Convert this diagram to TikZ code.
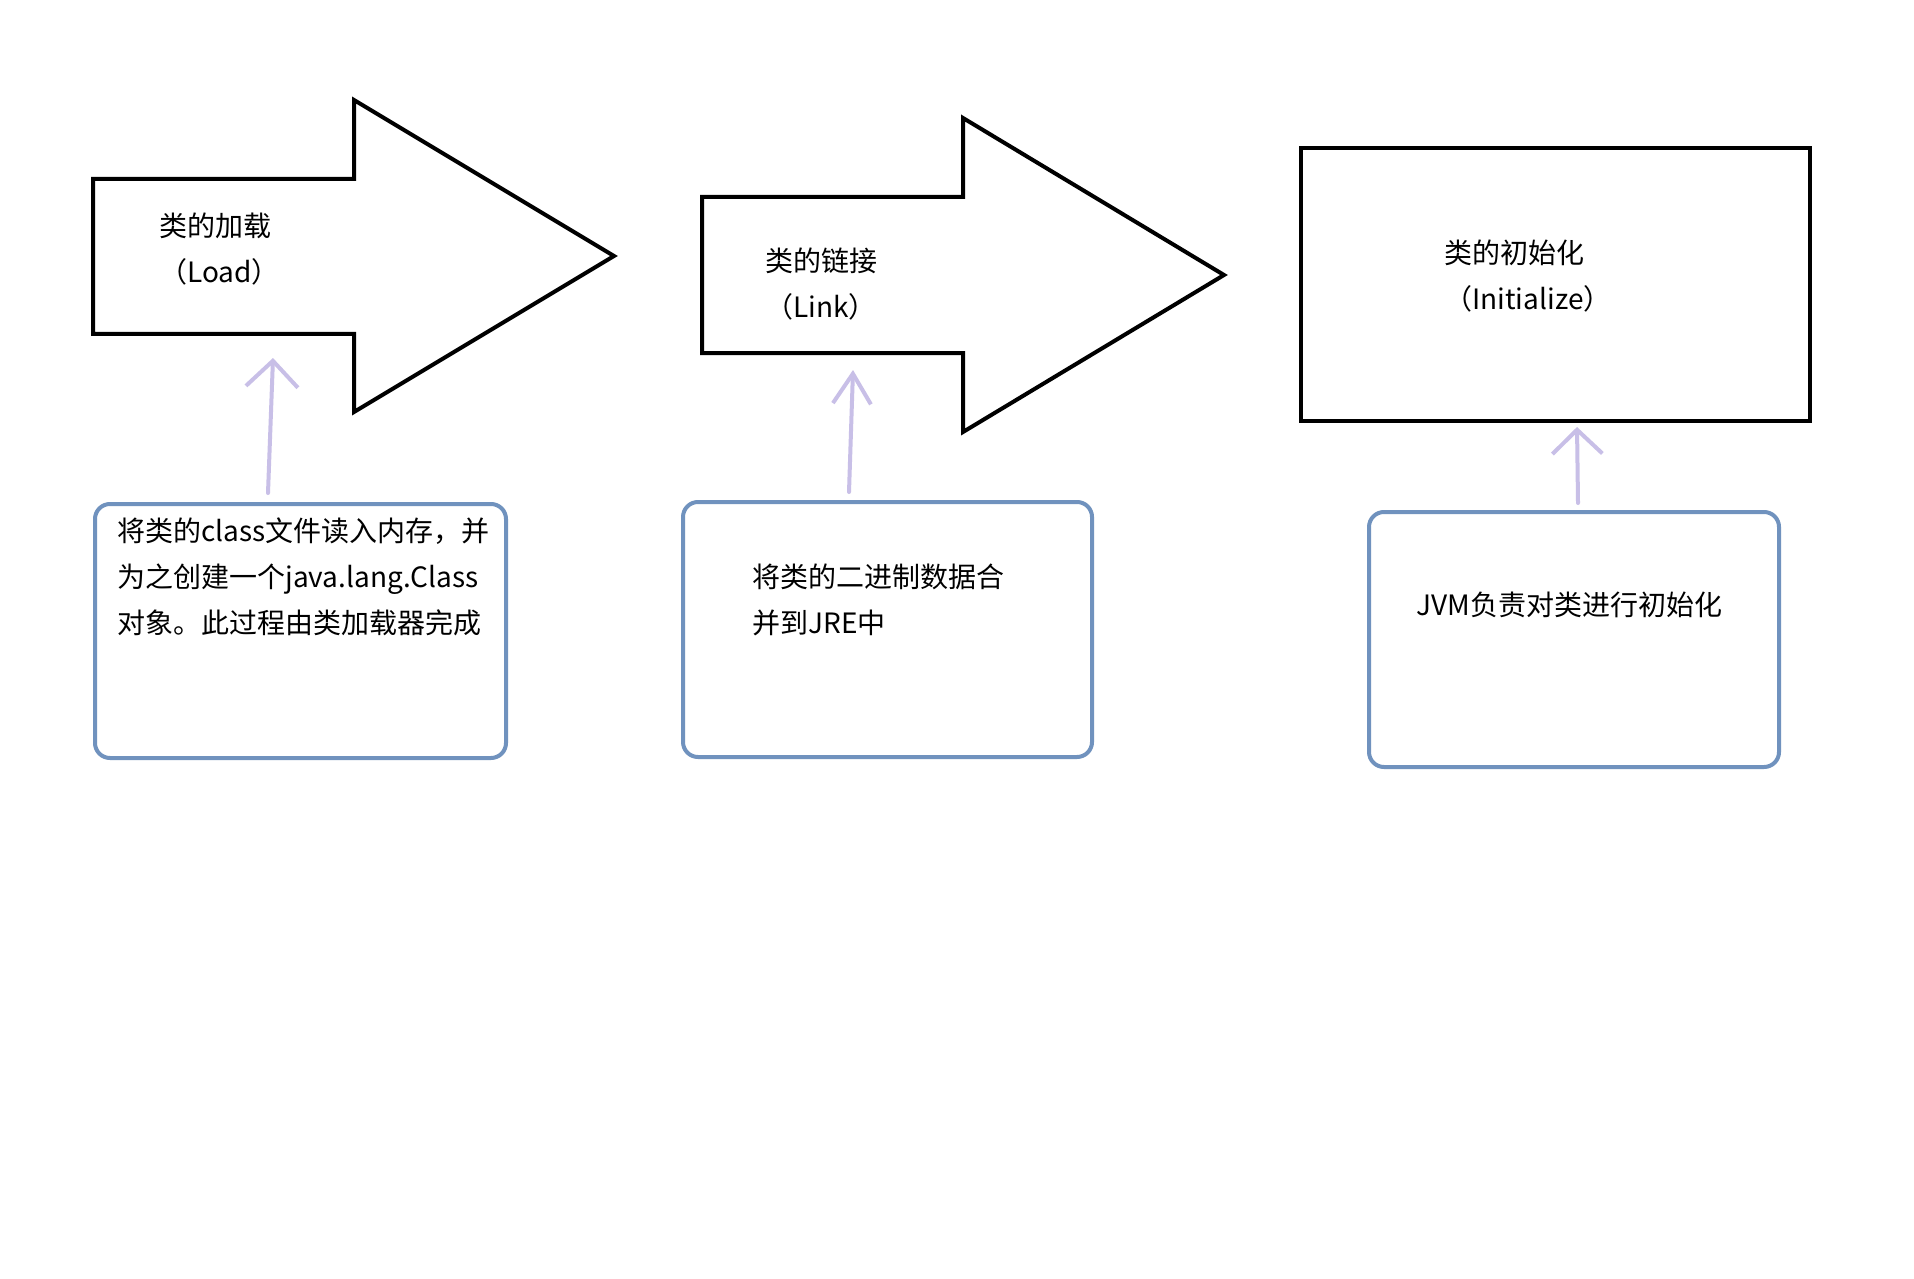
\documentclass[tikz,border=0pt]{standalone}
\usepackage{fontspec}
\setmainfont{Noto Sans CJK SC}
\usetikzlibrary{arrows.meta}
\definecolor{boxblue}{RGB}{112,146,190}
\definecolor{lav}{RGB}{200,191,231}
\begin{document}
\begin{tikzpicture}[x=0.5pt,y=-0.5pt,
  bigarrow/.style={draw=black,line width=2pt,fill=white,line join=miter},
  label/.style={anchor=west,align=left,inner sep=0pt,font=\fontsize{14pt}{23pt}\selectfont},
  descbox/.style={draw=boxblue,line width=2pt,rounded corners=7.5pt,inner sep=0pt,outer sep=0pt,fill=white},
  conn/.style={draw=lav,line width=2pt,line cap=round,line join=round}]
\useasboundingbox (0,0) rectangle (1914,1278);
\fill[white] (0,0) rectangle (1914,1278);

% block arrow 1
\draw[bigarrow] (93,179) -- (354,179) -- (354,100) -- (614,256) -- (354,412) -- (354,334) -- (93,334) -- cycle;
\node[label] (l1) at (159,249.5) {类的加载\\（Load）};
% block arrow 2
\draw[bigarrow] (702,197) -- (963,197) -- (963,118) -- (1224,275) -- (963,432) -- (963,353) -- (702,353) -- cycle;
\node[label] (l2) at (765,284.5) {类的链接\\（Link）};
% rectangle 3
\node[draw=black,line width=2pt,minimum width=254.5pt,minimum height=136.5pt,inner sep=0pt,outer sep=0pt] (r3) at (1555.5,284.5) {};
\node[label] (l3) at (1444,276.5) {类的初始化\\（Initialize）};

% description boxes
\node[descbox,minimum width=205.5pt,minimum height=127pt] (b1) at (300.5,631) {};
\node[descbox,minimum width=204.5pt,minimum height=127.5pt] (b2) at (887.5,629.5) {};
\node[descbox,minimum width=205pt,minimum height=127.5pt] (b3) at (1574,639.5) {};

\node[label] (t1) at (117,576.5) {将类的class文件读入内存，并\\为之创建一个java.lang.Class\\对象。此过程由类加载器完成};
\node[label] (t2) at (752,599.5) {将类的二进制数据合\\并到JRE中};
\node[label] (t3) at (1416,605) {JVM负责对类进行初始化};

% connectors
\coordinate (c1tip) at (273,358);
\coordinate (c2tip) at (853,370);
\coordinate (c3tip) at (1577,427);
\draw[conn,-{Straight Barb[length=13pt,width=26pt]}] ([shift={(-32.5,-11)}]b1.north) -- (c1tip);
\draw[conn,-{Straight Barb[length=15pt,width=19pt]}] ([shift={(-38.5,-10)}]b2.north) -- (c2tip);
\draw[conn,-{Straight Barb[length=12pt,width=25pt]}] ([shift={(4,-9)}]b3.north) -- (c3tip);
\end{tikzpicture}
\end{document}
